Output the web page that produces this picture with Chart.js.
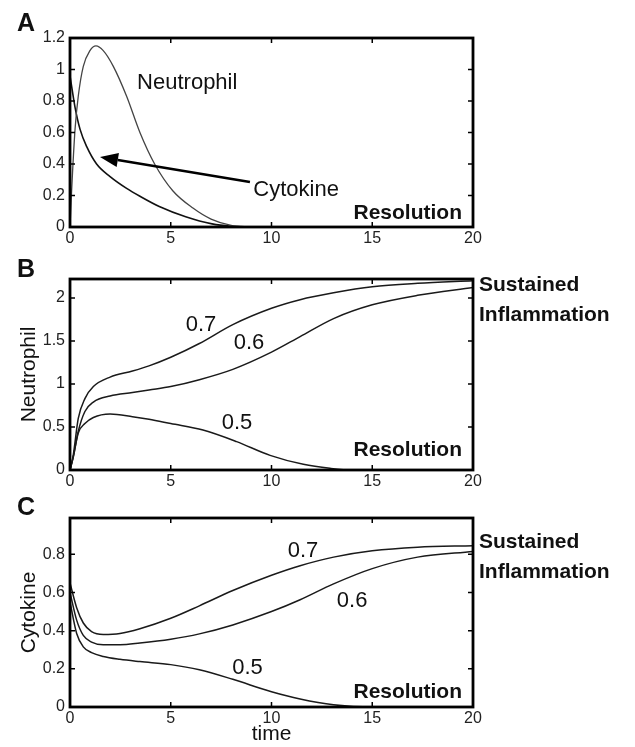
<!DOCTYPE html>
<html>
<head>
<meta charset="utf-8">
<script src="https://cdn.jsdelivr.net/npm/chart.js@4/dist/chart.umd.min.js"></script>
<style>
  html, body { margin: 0; padding: 0; background: #fff; }
  #wrap { position: relative; width: 635px; height: 747px; }
  canvas { position: absolute; left: 0; }
</style>
</head>
<body>
<div id="wrap">
  <canvas id="panelA" width="635" height="245" style="top:0px"></canvas>
  <canvas id="panelB" width="635" height="250" style="top:245px"></canvas>
  <canvas id="panelC" width="635" height="252" style="top:495px"></canvas>
</div>
<script>
// --- data ---
const xTicks = [0, 5, 10, 15, 20];

// panel A
const timeNeutA = [0, 0.08, 0.25, 0.41, 0.66, 0.99, 1.29, 1.65, 2.15, 2.81, 3.47, 4.2, 5.1, 6.1, 7.0, 8.0, 9.0];
const neutrophilA = [0, 0.23, 0.62, 0.83, 1.02, 1.12, 1.15, 1.12, 1.02, 0.83, 0.60, 0.40, 0.23, 0.12, 0.05, 0.01, 0];
const timeCytoA = [0, 0.25, 0.5, 0.83, 1.32, 1.99, 2.81, 3.47, 4.43, 5.74, 7.05, 8.0, 9.0];
const cytokineA = [0.96, 0.76, 0.62, 0.51, 0.40, 0.32, 0.245, 0.195, 0.13, 0.065, 0.02, 0.005, 0];
const yTicksA = [0, 0.2, 0.4, 0.6, 0.8, 1, 1.2];

// panel B (neutrophil, three parameter values)
const timeB = [0, 0.16, 0.41, 0.74, 1.16, 1.99, 3.1, 3.92, 5, 6.42, 8.08, 10, 11.42, 13.08, 15, 17.25, 20];
const neutB07 = [0, 0.17, 0.60, 0.83, 0.97, 1.08, 1.15, 1.21, 1.31, 1.47, 1.69, 1.88, 1.98, 2.06, 2.13, 2.17, 2.2];
const neutB06 = [0, 0.15, 0.45, 0.68, 0.79, 0.86, 0.90, 0.93, 0.97, 1.05, 1.17, 1.37, 1.55, 1.76, 1.92, 2.03, 2.12];
const timeB05 = [0, 0.16, 0.41, 0.74, 1.16, 1.99, 3.1, 3.92, 5, 6.6, 8.27, 9.93, 11.58, 12.9, 14, 20];
const neutB05 = [0, 0.15, 0.43, 0.54, 0.61, 0.65, 0.62, 0.59, 0.54, 0.465, 0.33, 0.17, 0.066, 0.02, 0, 0];
const yTicksB = [0, 0.5, 1, 1.5, 2];

// panel C (cytokine)
const timeC = [0, 0.33, 0.66, 1.07, 1.65, 2.48, 3.47, 5, 6.42, 8.08, 10, 11.42, 13.08, 15, 17.25, 20];
const cytC07 = [0.65, 0.52, 0.44, 0.395, 0.38, 0.385, 0.41, 0.465, 0.53, 0.61, 0.69, 0.74, 0.785, 0.818, 0.837, 0.845];
const cytC06 = [0.60, 0.455, 0.375, 0.34, 0.326, 0.326, 0.335, 0.355, 0.383, 0.43, 0.50, 0.562, 0.645, 0.725, 0.785, 0.815];
const cytC05 = [0.55, 0.385, 0.315, 0.285, 0.265, 0.25, 0.238, 0.222, 0.195, 0.145, 0.08, 0.042, 0.012, 0, 0, 0];
const yTicksC = [0, 0.2, 0.4, 0.6, 0.8];

const FONT = '"Liberation Sans", Arial, Helvetica, sans-serif';

function pts(xs, ys) {
  return xs.map((x, i) => ({ x: x, y: ys[i] }));
}

function series(xs, ys, color, width) {
  return {
    data: pts(xs, ys),
    showLine: true,
    borderColor: color || '#1a1a1a',
    borderWidth: width || 1.5,
    pointRadius: 0,
    cubicInterpolationMode: 'monotone',
    fill: false
  };
}

// frame, inward ticks, labels
const decor = {
  id: 'decor',
  afterDatasetsDraw(chart, args, o) {
    const ctx = chart.ctx;
    const a = chart.chartArea;
    const sx = chart.scales.x, sy = chart.scales.y;
    ctx.save();
    ctx.strokeStyle = '#000';
    ctx.lineWidth = 1.5;
    ctx.beginPath();
    sx.ticks.forEach(t => {
      const p = sx.getPixelForValue(t.value);
      ctx.moveTo(p, a.bottom); ctx.lineTo(p, a.bottom - 5);
      ctx.moveTo(p, a.top); ctx.lineTo(p, a.top + 5);
    });
    sy.ticks.forEach(t => {
      const p = sy.getPixelForValue(t.value);
      ctx.moveTo(a.left, p); ctx.lineTo(a.left + 5, p);
      ctx.moveTo(a.right, p); ctx.lineTo(a.right - 5, p);
    });
    ctx.stroke();
    ctx.lineWidth = 2.8;
    ctx.strokeRect(a.left, a.top, a.right - a.left, a.bottom - a.top);

    ctx.fillStyle = '#111';
    ctx.textBaseline = 'middle';
    (o.notes || []).forEach(n => {
      ctx.font = (n.bold ? 'bold ' : '') + '22px ' + FONT;
      ctx.textAlign = n.align || 'center';
      ctx.fillText(n.text, sx.getPixelForValue(n.x), sy.getPixelForValue(n.y));
    });
    ctx.font = 'bold 21px ' + FONT;
    ctx.textAlign = 'right';
    ctx.fillText('Resolution', a.right - 11, a.bottom - o.resDy);
    if (o.sideDy !== undefined) {
      ctx.textAlign = 'left';
      ctx.fillText('Sustained', a.right + 6, a.top + o.sideDy);
      ctx.fillText('Inflammation', a.right + 6, a.top + o.sideDy + 30);
    }
    ctx.font = 'bold 25px ' + FONT;
    ctx.textAlign = 'left';
    ctx.fillText(o.letter, 17, o.letterY);

    if (o.arrow) {
      const x0 = sx.getPixelForValue(o.arrow[0]), y0 = sy.getPixelForValue(o.arrow[1]);
      const x1 = sx.getPixelForValue(o.arrow[2]), y1 = sy.getPixelForValue(o.arrow[3]);
      const ang = Math.atan2(y1 - y0, x1 - x0);
      const hl = 18, hw = 7;
      const bx = x1 - hl * Math.cos(ang), by = y1 - hl * Math.sin(ang);
      ctx.strokeStyle = '#000';
      ctx.lineWidth = 2.5;
      ctx.beginPath();
      ctx.moveTo(x0, y0); ctx.lineTo(bx, by);
      ctx.stroke();
      ctx.fillStyle = '#000';
      ctx.beginPath();
      ctx.moveTo(x1, y1);
      ctx.lineTo(bx + hw * Math.sin(ang), by - hw * Math.cos(ang));
      ctx.lineTo(bx - hw * Math.sin(ang), by + hw * Math.cos(ang));
      ctx.closePath();
      ctx.fill();
    }
    ctx.restore();
  }
};

function Panel(canvas, datasets, yMax, yTicks, plotTop, bottomPad, xHeight, yTitle, xTitle, decorOpts) {
  return new Chart(canvas, {
    type: 'scatter',
    data: { datasets: datasets },
    options: {
      responsive: false,
      animation: false,
      layout: { padding: { left: 0, right: 162, top: plotTop, bottom: bottomPad } },
      plugins: {
        legend: { display: false },
        tooltip: { enabled: false },
        decor: decorOpts
      },
      scales: {
        x: {
          type: 'linear',
          min: 0,
          max: 20,
          afterBuildTicks: s => { s.ticks = xTicks.map(v => ({ value: v })); },
          afterFit: s => { s.height = xHeight; },
          grid: { display: false, drawTicks: false },
          border: { display: false },
          ticks: { color: '#222', padding: 2, maxRotation: 0, font: { family: FONT, size: 16 }, callback: v => String(v) },
          title: xTitle ? { display: true, text: xTitle, color: '#111', padding: { top: 0, bottom: 0 }, font: { family: FONT, size: 21 } } : { display: false }
        },
        y: {
          min: 0,
          max: yMax,
          afterBuildTicks: s => { s.ticks = yTicks.map(v => ({ value: v })); },
          afterFit: s => { s.width = 70; },
          grid: { display: false, drawTicks: false },
          border: { display: false },
          ticks: { color: '#222', padding: 5, font: { family: FONT, size: 16 }, callback: v => String(v) },
          title: yTitle ? { display: true, text: yTitle, color: '#111', padding: { top: 17, bottom: 0 }, font: { family: FONT, size: 21 } } : { display: false }
        }
      }
    },
    plugins: [decor]
  });
}

Panel(document.getElementById('panelA'),
  [series(timeNeutA, neutrophilA, '#444', 1.3), series(timeCytoA, cytokineA, '#111', 1.6)],
  1.2, yTicksA, 38, 0, 18, null, null,
  {
    letter: 'A', letterY: 24, resDy: 14,
    notes: [
      { text: 'Neutrophil', x: 3.33, y: 0.914, align: 'left' },
      { text: 'Cytokine', x: 9.1, y: 0.235, align: 'left' }
    ],
    arrow: [8.93, 0.286, 1.49, 0.444]
  });

Panel(document.getElementById('panelB'),
  [series(timeB, neutB07), series(timeB, neutB06), series(timeB05, neutB05)],
  2.22, yTicksB, 34, 7, 18, 'Neutrophil', null,
  {
    letter: 'B', letterY: 25, resDy: 20, sideDy: 6,
    notes: [
      { text: '0.7', x: 6.5, y: 1.69 },
      { text: '0.6', x: 8.88, y: 1.48 },
      { text: '0.5', x: 8.29, y: 0.55 }
    ]
  });

Panel(document.getElementById('panelC'),
  [series(timeC, cytC07), series(timeC, cytC06), series(timeC, cytC05)],
  0.99, yTicksC, 23, 0, 40, 'Cytokine', 'time',
  {
    letter: 'C', letterY: 13, resDy: 15, sideDy: 24,
    notes: [
      { text: '0.7', x: 11.56, y: 0.816 },
      { text: '0.6', x: 14.0, y: 0.558 },
      { text: '0.5', x: 8.81, y: 0.205 }
    ]
  });
</script>
</body>
</html>
